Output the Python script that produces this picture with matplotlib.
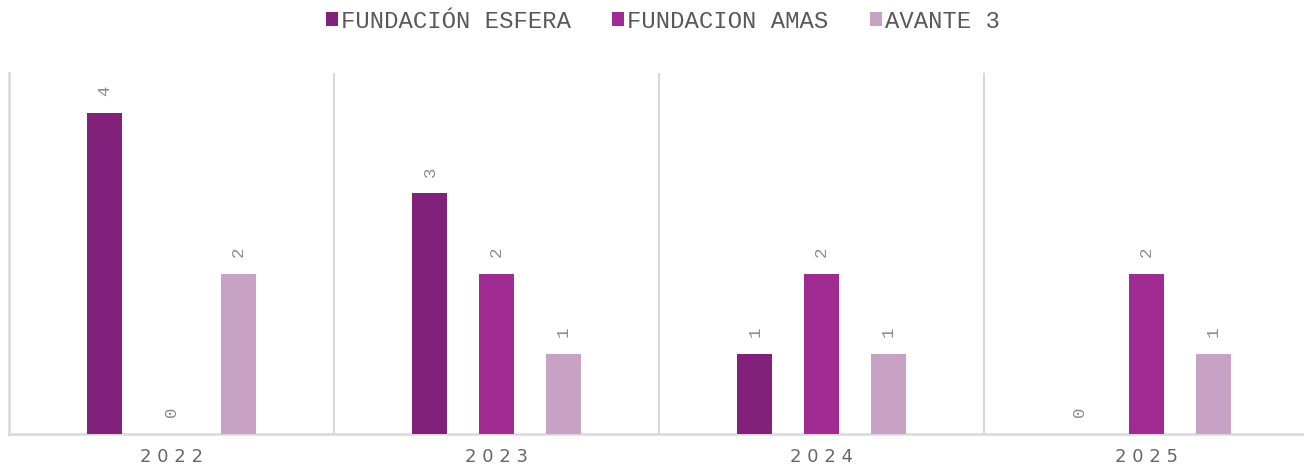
import matplotlib
matplotlib.use("Agg")
import matplotlib.pyplot as plt
import numpy as np

categories = ["2022", "2023", "2024", "2025"]
series_names = ["FUNDACIÓN ESFERA", "FUNDACION AMAS", "AVANTE 3"]
esfera = [4, 3, 1, 0]
amas = [0, 2, 2, 2]
avante = [2, 1, 1, 1]
colors = ["#82217A", "#A02B93", "#C8A2C4"]

W, H = 1304, 468
fig = plt.figure(figsize=(W / 100, H / 100), dpi=100)
ax = fig.add_axes([9 / W, (H - 434) / H, 1300 / W, 361 / H])

x = np.arange(len(categories))
offset = 0.205
width = 0.108
gray = "#595959"
handles = []
for k, (vals, name, c) in enumerate(zip([esfera, amas, avante], series_names, colors)):
    pos = x + (k - 1) * offset
    b = ax.bar(pos, vals, width=width, color=c, label=name, zorder=3)
    handles.append(b)
    for p, v in zip(pos, vals):
        ax.annotate(str(v), xy=(p, v), xytext=(0, 12), textcoords="offset points",
                    ha="center", va="bottom", rotation=90, color="#8C8C8C",
                    fontsize=12.5, family="Liberation Mono")

ax.set_xlim(-0.5, 3.5)
ax.set_ylim(0, 4.5)
ax.set_yticks([])
ax.set_xticks(x)
ax.set_xticklabels([" ".join(c) for c in categories], color="#666666", fontsize=13)
ax.tick_params(axis="x", length=0, pad=10)
for b in [0.5, 1.5, 2.5, 3.5]:
    ax.axvline(b, color="#D9D9D9", lw=1.5, zorder=1)
for s in ["top", "right"]:
    ax.spines[s].set_visible(False)
for s in ["left", "bottom"]:
    ax.spines[s].set_color("#D9D9D9")
    ax.spines[s].set_linewidth(1.8)

leg = fig.legend(handles=handles, labels=series_names, loc="center",
                 bbox_to_anchor=(663 / W, 1 - 21 / H), ncol=3, frameon=False,
                 prop={"family": "Liberation Mono", "size": 17.2},
                 handlelength=0.5, handleheight=0.5, handletextpad=0.12,
                 columnspacing=1.75)
for t in leg.get_texts():
    t.set_color(gray)

fig.savefig("out.png", dpi=100)
